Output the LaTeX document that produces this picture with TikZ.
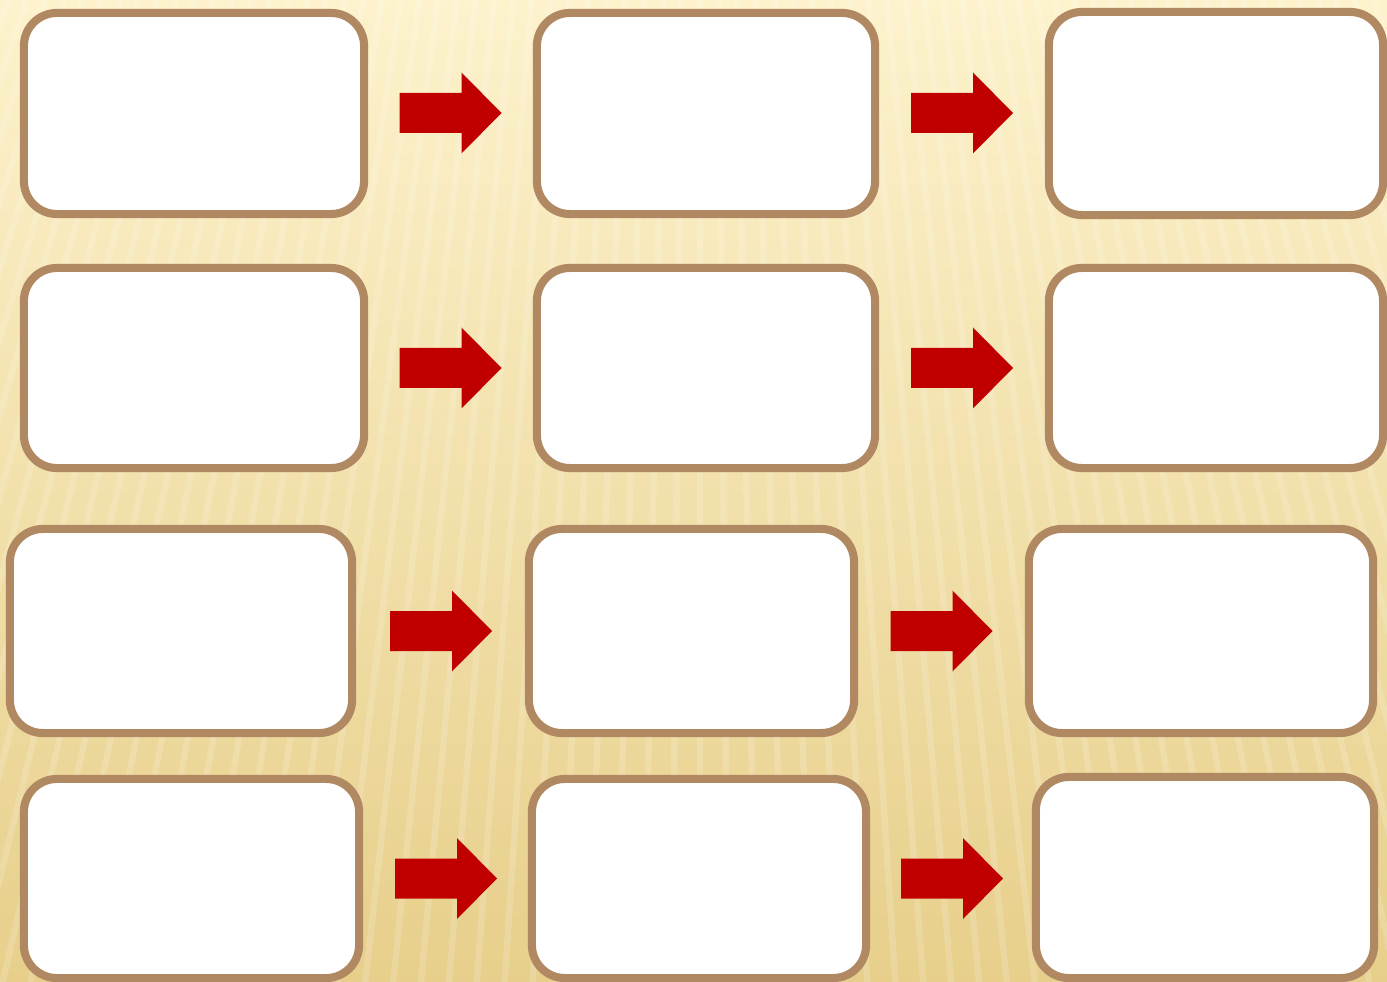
\documentclass[tikz,border=0pt]{standalone}
\usetikzlibrary{positioning}
\definecolor{cardrim}{HTML}{B08862}
\definecolor{arrowred}{HTML}{C00000}
\definecolor{bgtop}{HTML}{FDF2CC}
\definecolor{bgmid}{HTML}{F8E6AC}
\definecolor{bgbot}{HTML}{E7CF8B}
\tikzset{
  card/.style={draw=cardrim, line width=2.3pt, fill=white, rounded corners=0.33cm,
    inner sep=0pt, outer sep=0pt},
  stripe/.style={white, line width=1.8pt, opacity=0.16}
}
% block arrow at a named point
\newcommand{\blockarrow}[2]{%
  \coordinate (#1) at #2;
  \fill [arrowred] ([shift={(-51,-20)}]#1) -- ++(62,0) -- ++(0,-20.5) -- ([shift={(51,0)}]#1)
    -- ([shift={(11,40.5)}]#1) -- ++(0,-20.5) -- ++(-62,0) -- cycle;
}
\begin{document}
\begin{tikzpicture}[x=0.01cm, y=-0.01cm]
    \useasboundingbox (0,0) rectangle (1387,982);
    \clip (0,0) rectangle (1387,982);
    % background
    \shade [top color=bgtop, middle color=bgmid, bottom color=bgbot] (0,0) rectangle (1387,982);
    \foreach \i in {-60,...,60}
      \draw [stripe] (700,-2000) -- ({700+\i*29},1100);
    % row 1
    \node [card, minimum width=3.40cm, minimum height=2.01cm] (a1) at (194,113.5) {};
    \node [card, minimum width=3.38cm, minimum height=2.01cm] (a2) at (706,113.5) {};
    \node [card, minimum width=3.34cm, minimum height=2.03cm] (a3) at (1216,113.5) {};
    % row 2
    \node [card, minimum width=3.40cm, minimum height=2.00cm] (b1) at (194,368) {};
    \node [card, minimum width=3.38cm, minimum height=2.00cm] (b2) at (706,368) {};
    \node [card, minimum width=3.34cm, minimum height=2.00cm] (b3) at (1216,368) {};
    % row 3
    \node [card, minimum width=3.42cm, minimum height=2.04cm] (c1) at (181,631) {};
    \node [card, minimum width=3.25cm, minimum height=2.04cm] (c2) at (691.5,631) {};
    \node [card, minimum width=3.44cm, minimum height=2.04cm] (c3) at (1201,631) {};
    % row 4
    \node [card, minimum width=3.35cm, minimum height=1.99cm] (d1) at (191.5,878.5) {};
    \node [card, minimum width=3.34cm, minimum height=1.99cm] (d2) at (699,878.5) {};
    \node [card, minimum width=3.38cm, minimum height=2.01cm] (d3) at (1205,877.5) {};
    % arrows
    \blockarrow{ab1}{(450.5,113)}
    \blockarrow{ab2}{(962,113)}
    \blockarrow{bb1}{(450.5,368)}
    \blockarrow{bb2}{(962,368)}
    \blockarrow{cb1}{(441,631)}
    \blockarrow{cb2}{(941.5,631)}
    \blockarrow{db1}{(446,878.5)}
    \blockarrow{db2}{(952,878.5)}
\end{tikzpicture}
\end{document}
